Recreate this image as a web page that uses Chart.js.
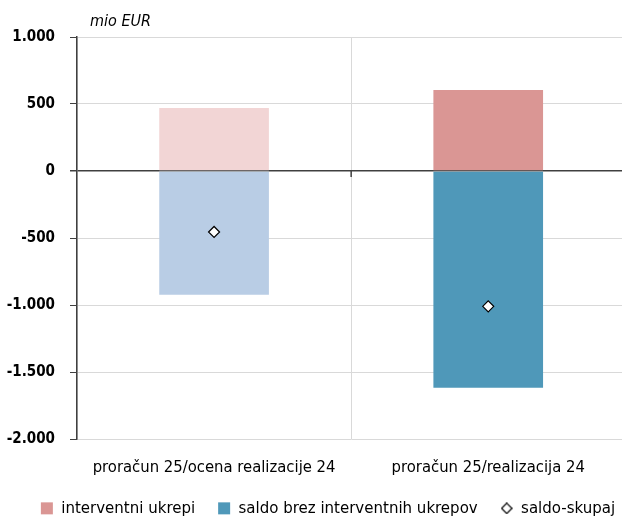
<!DOCTYPE html>
<html>
<head>
<meta charset="utf-8">
<script src="https://cdn.jsdelivr.net/npm/chart.js@4/dist/chart.umd.min.js"></script>
<style>
html,body{margin:0;padding:0;overflow:hidden;background:#fff;}
#c{display:block;}
</style>
</head>
<body>
<canvas id="c" width="632" height="519" style="width:632px;height:519px"></canvas>
<script>
const categories = ['proračun 25/ocena realizacije 24', 'proračun 25/realizacija 24'];
const interventniUkrepi = [470, 604];
const saldoBrez = [-923, -1617];
const saldoSkupaj = [-455, -1010];
const seriesNames = ['interventni ukrepi', 'saldo brez interventnih ukrepov', 'saldo-skupaj'];
const yMin = -2000, yMax = 1000, yStep = 500;
const unitLabel = 'mio EUR';

const FONT = "'DejaVu Sans Condensed','Liberation Sans Narrow',sans-serif";
const pinkColors = ['#F2D5D5', '#DA9694'];
const blueColors = ['#B9CDE5', '#4F98B9'];

function fmt(v){
  const s = Math.abs(v).toString().replace(/\B(?=(\d{3})+(?!\d))/g, '.');
  return (v < 0 ? '-' : '') + s;
}

// small diamond for legend
const dia = document.createElement('canvas');
dia.width = 12; dia.height = 12;
(function(){
  const g = dia.getContext('2d');
  g.beginPath(); g.moveTo(6,0.8); g.lineTo(11.2,6); g.lineTo(6,11.2); g.lineTo(0.8,6); g.closePath();
  g.fillStyle = '#fff'; g.fill(); g.lineWidth = 1.2; g.strokeStyle = '#000'; g.stroke();
})();

const extras = {
  id: 'extras',
  afterLayout(chart){
    const L = chart.legend;
    L.left += 12; L.right += 12;
    L.top += 2; L.bottom += 2;
  },
  afterDraw(chart){
    const ctx = chart.ctx, a = chart.chartArea;
    ctx.save();
    ctx.font = "italic 16px " + FONT;
    ctx.fillStyle = '#000';
    ctx.textBaseline = 'middle';
    ctx.textAlign = 'left';
    ctx.fillText(unitLabel, a.left + 13, 22);
    // category tick marks on zero line
    const y0 = chart.scales.y.getPixelForValue(0);
    const xs = chart.scales.x;
    ctx.strokeStyle = '#404040'; ctx.lineWidth = 1.5;
    for (let i = 1; i < categories.length; i++) {
      const x = (xs.getPixelForValue(i - 1) + xs.getPixelForValue(i)) / 2;
      ctx.beginPath(); ctx.moveTo(x, y0); ctx.lineTo(x, y0 + 6); ctx.stroke();
    }
    ctx.restore();
  }
};

new Chart(document.getElementById('c'), {
  data: {
    labels: categories,
    datasets: [
      { type: 'bar', label: seriesNames[0], data: interventniUkrepi, backgroundColor: pinkColors, stack: 's', order: 2, barPercentage: 0.4, categoryPercentage: 1 },
      { type: 'bar', label: seriesNames[1], data: saldoBrez, backgroundColor: blueColors, stack: 's', order: 2, barPercentage: 0.4, categoryPercentage: 1 },
      { type: 'line', label: seriesNames[2], data: saldoSkupaj, showLine: false, stack: 'l', order: 0,
        pointStyle: 'rectRot', pointRadius: 5.5, pointHoverRadius: 5.5, pointBackgroundColor: '#fff', pointBorderColor: '#000', pointBorderWidth: 1.2 }
    ]
  },
  options: {
    responsive: false,
    devicePixelRatio: 1,
    animation: false,
    layout: { padding: { left: 0, top: 37, right: 0, bottom: 0 } },
    plugins: {
      tooltip: { enabled: false },
      legend: {
        position: 'bottom',
        maxHeight: 44,
        labels: {
          font: { family: FONT, size: 16.7 },
          color: '#000',
          usePointStyle: true,
          boxHeight: 12,
          pointStyleWidth: 12,
          padding: 23,
          generateLabels(chart){
            return chart.data.datasets.map((d, i) => ({
              text: d.label,
              fillStyle: i === 0 ? pinkColors[1] : (i === 1 ? blueColors[1] : '#fff'),
              strokeStyle: 'transparent',
              lineWidth: 0,
              pointStyle: i === 2 ? dia : 'rect',
              hidden: false,
              datasetIndex: i,
              fontColor: '#000'
            }));
          }
        }
      }
    },
    scales: {
      x: {
        stacked: true,
        offset: true,
        afterFit(s){ s.height = 36; },
        grid: { display: true, offset: true, color: '#D9D9D9', drawTicks: false, lineWidth: 1 },
        border: { display: false },
        ticks: { font: { family: FONT, size: 16.5 }, color: '#000', padding: 19 }
      },
      y: {
        stacked: true,
        min: yMin, max: yMax,
        afterFit(s){ s.width = 77; },
        grid: {
          color: (c) => c.tick && c.tick.value === 0 ? '#404040' : '#D9D9D9',
          lineWidth: (c) => c.tick && c.tick.value === 0 ? 1.5 : 1,
          tickColor: '#404040', tickLength: 7
        },
        border: { display: true, color: '#404040', width: 1.5 },
        ticks: { stepSize: yStep, callback: (v) => fmt(v), font: { family: FONT, size: 15, weight: 'bold' }, color: '#000', padding: 15 }
      }
    }
  },
  plugins: [extras]
});
</script>
</body>
</html>
